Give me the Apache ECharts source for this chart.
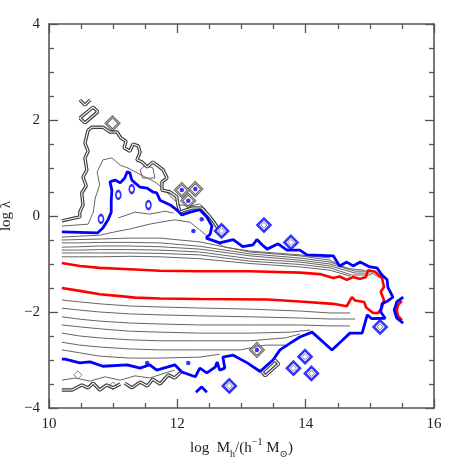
<!DOCTYPE html>
<html><head><meta charset="utf-8">
<script src="https://cdn.jsdelivr.net/npm/echarts/dist/echarts.min.js"></script>
<style>html,body{margin:0;padding:0;background:#fff}#c{width:458px;height:458px}</style>
</head><body><div id="c"></div>
<script>
// axis settings (data units)
const xRange = [10, 16];
const yRange = [-4, 4];

// red contour (inner level, closed at high mass)
const redContour = [[10.20,-0.98],[10.48,-1.04],[10.79,-1.08],[11.26,-1.11],[11.73,-1.14],[12.35,-1.15],[13.13,-1.15],[13.91,-1.18],[14.22,-1.21],[14.43,-1.29],[14.53,-1.26],[14.64,-1.33],[14.74,-1.27],[14.85,-1.31],[14.94,-1.27],[14.97,-1.13],[15.08,-1.16],[15.19,-1.29],[15.22,-1.48],[15.17,-1.58],[15.22,-1.75],[15.19,-1.90],[15.13,-2.02],[15.05,-2.02],[14.94,-1.90],[14.91,-1.79],[14.77,-1.76],[14.72,-1.69],[14.64,-1.88],[14.43,-1.83],[13.91,-1.78],[13.40,-1.74],[12.35,-1.73],[11.73,-1.72],[11.34,-1.70],[11.11,-1.67],[10.79,-1.63],[10.48,-1.56],[10.20,-1.50]];
const redBlob = [[15.50,-1.77],[15.44,-1.85],[15.42,-1.98],[15.44,-2.08],[15.50,-2.17]];

// blue contour (outer level)
const blueContour = [[10.20,-0.33],[10.48,-0.34],[10.76,-0.35],[10.84,-0.25],[10.92,-0.08],[10.97,0.08],[10.97,0.33],[10.98,0.54],[10.95,0.71],[11.03,0.75],[11.11,0.69],[11.18,0.79],[11.22,0.92],[11.26,0.90],[11.29,0.75],[11.34,0.69],[11.42,0.60],[11.53,0.58],[11.62,0.50],[11.68,0.48],[11.73,0.33],[11.89,0.23],[11.99,0.13],[12.07,0.02],[12.20,0.08],[12.35,0.13],[12.46,-0.02],[12.54,-0.21],[12.51,-0.38],[12.45,-0.46],[12.66,-0.56],[12.87,-0.49],[13.02,-0.64],[13.18,-0.60],[13.24,-0.49],[13.32,-0.60],[13.40,-0.69],[13.57,-0.58],[13.71,-0.71],[13.91,-0.71],[14.02,-0.81],[14.43,-0.83],[14.53,-1.04],[14.64,-0.96],[14.74,-1.04],[14.85,-0.96],[15.00,-1.06],[15.11,-1.08],[15.19,-1.23],[15.27,-1.33],[15.28,-1.48],[15.36,-1.69],[15.28,-1.77],[15.19,-1.83],[15.17,-2.00],[15.24,-2.13],[15.03,-2.14],[14.96,-2.06],[14.88,-2.44],[14.69,-2.44],[14.58,-2.58],[14.41,-2.79],[14.10,-2.42],[13.91,-2.52],[13.76,-2.65],[13.60,-2.79],[13.49,-3.00],[13.29,-3.24],[13.09,-3.06],[12.87,-2.90],[12.71,-2.94],[12.74,-3.17],[12.66,-3.21],[12.62,-3.04],[12.59,-3.15],[12.46,-3.27],[12.35,-3.17],[12.28,-3.35],[12.07,-3.25],[11.96,-3.10],[11.84,-3.15],[11.68,-3.21],[11.57,-3.10],[11.42,-3.17],[11.22,-3.10],[10.84,-3.13],[10.64,-3.04],[10.48,-3.06],[10.25,-2.98],[10.20,-2.98]];
const blueBlob = [[15.52,-1.69],[15.42,-1.79],[15.38,-1.96],[15.42,-2.13],[15.52,-2.23]];
const blueCaret = [[12.29,-3.67],[12.38,-3.56],[12.46,-3.67]];

// grey contours above the peak
const grayU1 = [[10.20,-0.44],[10.48,-0.42],[10.79,-0.40],[11.03,-0.33],[11.26,-0.27],[11.57,-0.17],[11.73,-0.13],[11.96,-0.08],[12.20,-0.13],[12.35,-0.29],[12.54,-0.50],[12.74,-0.65],[13.13,-0.73],[13.91,-0.81],[14.38,-0.875]];
const grayU2 = [[10.20,-0.50],[10.48,-0.49],[10.79,-0.48],[11.26,-0.46],[11.73,-0.46],[12.35,-0.54],[13.13,-0.75],[13.91,-0.83],[14.38,-0.92],[14.61,-1.08]];
const grayU3 = [[10.20,-0.56],[10.48,-0.56],[10.79,-0.55],[11.26,-0.55],[11.73,-0.56],[12.35,-0.63],[13.13,-0.79],[13.91,-0.875],[14.38,-0.96],[14.69,-1.10],[14.92,-1.13]];
const grayU4 = [[10.20,-0.65],[10.48,-0.64],[10.79,-0.625],[11.26,-0.625],[11.73,-0.64],[12.35,-0.69],[13.13,-0.83],[13.91,-0.92],[14.38,-1.00],[14.77,-1.15],[15.03,-1.15]];
const grayU5 = [[10.20,-0.71],[10.48,-0.71],[10.79,-0.70],[11.26,-0.70],[11.73,-0.71],[12.35,-0.75],[13.13,-0.89],[13.91,-0.96],[14.38,-1.04],[14.77,-1.19],[15.03,-1.19],[15.16,-1.29]];
const grayU6 = [[10.20,-0.77],[10.48,-0.77],[10.79,-0.77],[11.26,-0.77],[11.73,-0.78],[12.35,-0.81],[13.13,-0.94],[13.91,-1.01],[14.38,-1.08],[14.72,-1.23],[15.03,-1.23]];
const grayU7 = [[10.20,-0.85],[10.48,-0.85],[10.79,-0.85],[11.26,-0.84],[11.73,-0.85],[12.35,-0.89],[13.13,-0.99],[13.91,-1.06],[14.38,-1.13],[14.69,-1.25]];
const grayIsland = [[11.08,-0.04],[11.34,0.08],[11.57,0.04],[11.81,0.10],[11.94,0.06]];

// grey contours below the peak
const grayL1 = [[10.20,-1.75],[10.48,-1.79],[10.79,-1.83],[11.26,-1.875],[11.73,-1.896],[12.35,-1.917],[13.13,-1.94],[13.91,-1.98],[14.38,-2.02],[14.69,-2.02]];
const grayL2 = [[10.20,-1.92],[10.48,-1.96],[10.79,-2.00],[11.26,-2.04],[11.73,-2.06],[12.35,-2.08],[13.13,-2.10],[13.91,-2.125],[14.38,-2.146],[14.77,-2.146]];
const grayL3 = [[10.20,-2.10],[10.48,-2.15],[10.79,-2.19],[11.26,-2.23],[11.73,-2.25],[12.35,-2.27],[13.13,-2.27],[13.91,-2.27],[14.38,-2.29],[14.69,-2.29]];
const grayL4 = [[10.20,-2.27],[10.48,-2.31],[10.79,-2.35],[11.26,-2.40],[11.73,-2.42],[12.35,-2.44],[13.13,-2.44],[13.76,-2.42],[14.07,-2.375]];
const grayL5 = [[10.20,-2.44],[10.48,-2.50],[10.79,-2.54],[11.26,-2.58],[11.73,-2.60],[12.35,-2.60],[13.13,-2.60],[13.68,-2.54],[13.91,-2.46]];
const grayL6 = [[10.20,-2.63],[10.48,-2.69],[10.79,-2.73],[11.26,-2.77],[11.73,-2.79],[12.35,-2.79],[12.98,-2.79],[13.37,-2.69],[13.68,-2.69]];
const grayL7 = [[10.20,-2.79],[10.48,-2.85],[10.79,-2.92],[11.26,-2.96],[11.73,-2.96],[12.35,-2.94],[12.66,-2.88]];

// outer (low density) grey contours, upper left
const outerUpper = [[10.20,-0.10],[10.48,-0.02],[10.48,0.08],[10.53,0.23],[10.51,0.48],[10.58,0.625],[10.53,0.81],[10.59,0.96],[10.56,1.21],[10.61,1.35],[10.56,1.52],[10.61,1.79],[10.67,1.85],[10.84,1.85],[10.95,1.75],[11.06,1.75],[11.12,1.625],[11.20,1.56],[11.17,1.42],[11.26,1.35],[11.31,1.50],[11.39,1.46],[11.42,1.33],[11.37,1.17],[11.45,1.125],[11.53,1.02],[11.62,1.125],[11.78,0.96],[11.84,0.79],[11.76,0.71],[11.76,0.54],[11.89,0.50],[11.99,0.40],[12.01,0.23],[12.04,0.083],[12.23,0.167],[12.38,0.167],[12.51,-0.02],[12.57,-0.125],[12.63,-0.25]];
const innerUpper = [[10.20,-0.21],[10.61,-0.17],[10.69,0.08],[10.72,0.375],[10.79,0.65],[10.75,0.92],[10.84,1.17],[10.98,1.21],[11.11,1.06],[11.23,1.00],[11.34,0.92],[11.50,0.81],[11.65,0.71],[11.81,0.54],[11.92,0.375],[12.04,0.23],[12.20,0.21],[12.35,0.25],[12.45,0.125]];
const pentagon = [[11.42,0.958],[11.50,1.06],[11.62,1.00],[11.65,0.79],[11.46,0.79],[11.42,0.958]];
const rectShape = [[10.48,2.04],[10.69,2.27],[10.76,2.17],[10.56,1.94],[10.48,2.04]];
const vShape = [[10.48,2.42],[10.56,2.31],[10.64,2.42]];

// outer grey contours, lower left
const outerLow1 = [[10.20,-3.42],[10.41,-3.375],[10.64,-3.44],[10.87,-3.35],[11.11,-3.42],[11.34,-3.33],[11.57,-3.375],[11.81,-3.27],[11.96,-3.21]];
const outerLow2 = [[10.20,-3.625],[10.36,-3.625],[10.51,-3.52],[10.61,-3.58],[10.69,-3.48],[10.79,-3.625],[10.90,-3.52],[11.00,-3.58],[11.11,-3.50]];
const outerLow3 = [[11.18,-3.48],[11.29,-3.58],[11.42,-3.46],[11.53,-3.54],[11.62,-3.40],[11.73,-3.50],[11.86,-3.31],[11.96,-3.375],[12.07,-3.23]];
const lowShape = [[13.32,-3.25],[13.52,-3.00],[13.58,-3.08],[13.37,-3.33],[13.32,-3.25]];

// isolated islands
const grayDiamonds = [[12.07,0.54],[12.28,0.56],[12.17,0.32],[10.99,1.93],[13.24,-2.79]];
const grayDiamondsSmall = [[10.45,-3.31],[11.00,-3.54]];
const blueDiamonds = [[12.69,-0.31],[13.35,-0.19],[13.77,-0.55],[12.81,-3.54],[13.81,-3.17],[13.99,-2.93],[14.09,-3.28],[15.16,-2.31]];
const blueDots = [[11.53,-3.06],[12.17,-3.06],[12.38,-0.07],[12.07,0.54],[12.28,0.56],[12.17,0.32],[13.24,-2.79],[12.25,-0.31]];
const blueRings = [[11.08,0.44],[11.29,0.56],[11.55,0.23],[10.81,-0.06]];

const GRAY = '#666', DARK = '#3a3a3a', BLUE = '#0000ff', RED = '#ff0000';
function ln(data, color, width, z) {
  return {type:'line', data:data, symbol:'none', showSymbol:false, silent:true, animation:false,
          lineStyle:{color:color, width:width}, z:z||2, clip:true};
}
function dbl(data) { return [ln(data, DARK, 3.4, 3), ln(data, '#fff', 1.1, 4)]; }

const series = [
  ln(grayU1, GRAY, 1), ln(grayU2, GRAY, 1), ln(grayU3, GRAY, 1), ln(grayU4, GRAY, 1),
  ln(grayU5, GRAY, 1), ln(grayU6, GRAY, 1), ln(grayU7, GRAY, 1), ln(grayIsland, GRAY, 1),
  ln(grayL1, GRAY, 1), ln(grayL2, GRAY, 1), ln(grayL3, GRAY, 1), ln(grayL4, GRAY, 1),
  ln(grayL5, GRAY, 1), ln(grayL6, GRAY, 1), ln(grayL7, GRAY, 1),
  ln(innerUpper, GRAY, 1), ln(pentagon, GRAY, 1), ln(outerLow1, GRAY, 1),
  ...dbl(outerUpper), ...dbl(rectShape), ...dbl(vShape), ...dbl(outerLow2), ...dbl(outerLow3), ...dbl(lowShape),
  ln(redContour, RED, 2.6, 6), ln(redBlob, RED, 2.6, 6),
  ln(blueContour, BLUE, 2.8, 7), ln(blueBlob, BLUE, 2.8, 7), ln(blueCaret, BLUE, 2.8, 7),
  {type:'scatter', data:grayDiamonds, symbol:'diamond', symbolSize:13, silent:true, animation:false, z:5,
   itemStyle:{color:'rgba(255,255,255,0)', borderColor:DARK, borderWidth:2.6}},
  {type:'scatter', data:grayDiamonds, symbol:'diamond', symbolSize:13, silent:true, animation:false, z:5,
   itemStyle:{color:'rgba(255,255,255,0)', borderColor:'#fff', borderWidth:0.8}},
  {type:'scatter', data:grayDiamondsSmall, symbol:'diamond', symbolSize:8, silent:true, animation:false, z:5,
   itemStyle:{color:'rgba(255,255,255,0)', borderColor:GRAY, borderWidth:1}},
  {type:'scatter', data:blueDiamonds, symbol:'diamond', symbolSize:13, silent:true, animation:false, z:7,
   itemStyle:{color:'rgba(255,255,255,0)', borderColor:BLUE, borderWidth:2.6}},
  {type:'scatter', data:blueDiamonds, symbol:'diamond', symbolSize:6, silent:true, animation:false, z:7,
   itemStyle:{color:'rgba(255,255,255,0)', borderColor:GRAY, borderWidth:1}},
  {type:'scatter', data:blueDots, symbol:'circle', symbolSize:4.5, silent:true, animation:false, z:8,
   itemStyle:{color:BLUE}},
  {type:'scatter', data:blueRings, symbol:'circle', symbolSize:[5,8], silent:true, animation:false, z:8,
   itemStyle:{color:'rgba(255,255,255,0)', borderColor:BLUE, borderWidth:2}}
];

const FONT = 'Liberation Serif, DejaVu Serif, serif';
const AXC = '#555';
function minus(v){ return v < 0 ? '\u2212' + Math.abs(v) : String(v); }
function xAx(pos, labels) {
  return {type:'value', min:xRange[0], max:xRange[1], interval:2, position:pos,
    axisLine:{show:true, onZero:false, lineStyle:{color:AXC, width:1.6}},
    axisTick:{show:true, inside:true, length:9, lineStyle:{color:AXC, width:1.3}},
    minorTick:{show:true, splitNumber:4, length:5, lineStyle:{color:AXC, width:1.3}},
    splitLine:{show:false}, minorSplitLine:{show:false},
    axisLabel:{show:labels, fontFamily:FONT, fontSize:15, color:'#222', margin:9},
    name: labels ? '{a|log  M}{s|h}{a|/(h}{p|\u22121}{a| M}{s|\u2299}{a|)}' : '',
    nameLocation:'middle', nameGap:24,
    nameTextStyle:{rich:{
      a:{fontFamily:FONT, fontSize:15, color:'#222', lineHeight:22, verticalAlign:'middle'},
      s:{fontFamily:FONT, fontSize:10, color:'#222', verticalAlign:'bottom', lineHeight:22},
      p:{fontFamily:FONT, fontSize:10, color:'#222', verticalAlign:'top', lineHeight:22}}}
  };
}
function yAx(pos, labels) {
  return {type:'value', min:yRange[0], max:yRange[1], interval:2, position:pos,
    axisLine:{show:true, onZero:false, lineStyle:{color:AXC, width:1.6}},
    axisTick:{show:true, inside:true, length:9, lineStyle:{color:AXC, width:1.3}},
    minorTick:{show:true, splitNumber:4, length:5, lineStyle:{color:AXC, width:1.3}},
    splitLine:{show:false}, minorSplitLine:{show:false},
    axisLabel:{show:labels, fontFamily:FONT, fontSize:15, color:'#222', margin:9, formatter:minus},
    name: labels ? 'log \u03bb' : '', nameLocation:'middle', nameGap:27, nameRotate:90,
    nameTextStyle:{fontFamily:FONT, fontSize:15, color:'#222'}
  };
}

const chart = echarts.init(document.getElementById('c'), null, {renderer:'canvas'});
chart.setOption({
  backgroundColor:'#fff', animation:false,
  grid:{left:49, top:24, width:385, height:384, containLabel:false, outerBoundsMode:'none'},
  xAxis:[xAx('bottom', true), xAx('top', false)],
  yAxis:[yAx('left', true), yAx('right', false)],
  series: series
});
</script>
</body></html>
